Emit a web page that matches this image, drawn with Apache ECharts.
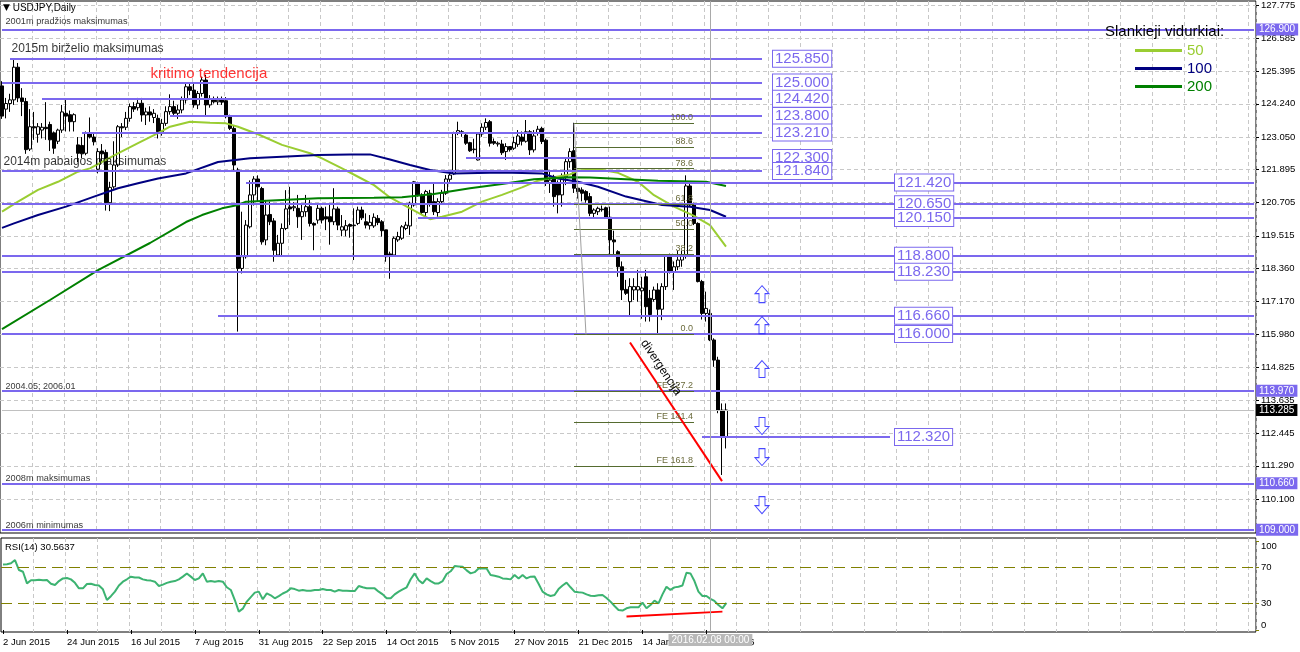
<!DOCTYPE html>
<html><head><meta charset="utf-8">
<script src="https://cdn.jsdelivr.net/npm/echarts@6/dist/echarts.min.js"></script>
<style>html,body{margin:0;padding:0;background:#fff}#c{width:1300px;height:652px}</style>
</head><body><div id="c"></div>
<script>
// ---------- DATA ----------
const opens = [124.88,124.05,124.25,124.38,125.55,124.45,124.32,122.62,123.42,123.15,
123.30,123.40,123.50,123.20,122.90,123.30,123.90,123.85,123.60,122.77,
122.75,122.47,123.18,123.05,121.90,122.55,122.50,120.70,121.27,122.05,
123.42,123.40,123.72,124.14,124.10,124.26,123.84,123.95,123.75,123.72,
123.24,123.54,123.96,124.14,123.90,124.02,124.38,124.85,124.73,124.20,
124.61,125.09,124.20,124.43,124.31,124.40,124.35,123.78,123.36,121.87,
118.35,118.77,119.84,120.98,121.55,121.21,119.37,120.28,120.05,118.83,
119.25,119.78,120.55,120.52,120.50,120.20,120.38,120.56,119.96,120.08,
120.50,120.20,120.20,120.02,120.48,119.72,119.72,119.92,119.88,119.96,
120.44,120.02,119.88,119.87,120.14,120.02,119.73,118.87,118.83,119.37,
119.43,119.78,119.87,120.62,121.37,120.98,120.35,121.04,120.74,120.35,
120.74,121.04,121.54,121.73,123.18,123.24,123.12,122.85,122.60,122.23,
123.16,123.40,123.60,122.89,122.80,122.80,122.53,122.71,122.65,122.79,
123.05,122.90,123.24,122.59,123.18,123.36,122.94,121.40,121.60,121.40,
120.98,121.63,122.17,122.56,121.22,121.16,121.10,120.92,120.32,120.38,
120.47,120.52,120.18,119.37,118.95,118.41,117.60,117.16,117.58,117.58,
117.55,118.05,117.28,117.24,117.58,116.89,117.70,118.81,118.23,118.41,
118.65,118.80,121.30,120.62,119.96,117.88,116.74,116.74,115.79,115.07,
113.28,112.33];
const highs = [125.05,124.45,124.60,125.86,125.70,124.80,124.45,124.05,123.95,123.55,
123.55,124.30,123.60,123.25,123.35,124.20,124.38,124.00,123.90,123.05,
123.05,123.25,123.75,123.20,122.65,122.80,122.60,121.45,122.90,123.48,
123.55,123.95,124.25,124.30,124.45,124.45,124.10,124.15,124.05,123.85,
123.70,124.15,124.58,124.35,124.20,124.50,125.00,125.00,124.95,124.70,
125.21,125.28,124.55,124.50,124.50,124.50,124.48,123.85,123.45,121.95,
120.38,120.08,121.50,121.65,121.68,121.27,120.80,120.74,120.15,119.55,
119.96,121.15,121.27,120.72,120.98,120.68,120.98,120.80,120.00,120.62,
120.56,120.56,120.62,121.22,120.56,120.26,120.08,119.96,120.50,120.56,
120.56,120.32,120.26,120.32,120.26,120.08,119.73,118.95,119.49,119.66,
119.90,120.02,120.74,121.48,121.45,121.04,121.16,121.16,121.40,120.86,
121.16,121.69,121.81,123.24,123.60,123.30,123.20,122.88,122.99,123.18,
123.54,123.72,123.66,123.00,122.89,122.95,122.83,122.71,123.06,123.30,
123.25,123.66,123.30,123.30,123.45,123.42,123.00,121.80,121.70,121.50,
121.75,122.30,122.65,123.56,121.40,121.25,121.15,121.05,120.50,120.56,
120.60,120.56,120.56,119.70,119.00,118.60,117.94,118.00,118.00,118.30,
118.05,118.30,117.58,117.70,117.82,117.82,118.83,118.88,118.60,118.99,
118.99,121.68,121.45,120.70,120.00,117.94,117.52,116.88,115.85,115.19,
113.52,113.52];
const lows = [123.70,123.72,123.95,124.20,124.30,123.80,122.45,122.55,122.95,122.85,
123.00,122.95,122.55,122.45,122.80,123.20,123.25,123.25,123.25,122.15,
122.30,122.40,123.00,122.75,121.75,122.10,120.42,120.40,121.20,121.98,
123.05,123.30,123.60,123.95,124.00,123.60,123.48,123.60,123.55,123.00,
123.10,123.45,123.85,123.80,123.70,123.90,124.25,124.55,124.10,124.05,
124.50,123.78,124.10,124.25,124.20,124.20,123.72,123.30,121.81,116.09,
118.17,118.70,119.78,120.60,120.75,119.20,119.18,119.90,118.59,118.77,
118.83,119.72,119.90,120.40,119.80,119.37,120.20,119.85,119.00,119.95,
119.96,119.72,119.20,119.90,119.72,119.50,119.50,119.45,118.65,119.90,
120.08,119.78,119.74,119.80,119.90,119.49,118.59,117.98,118.77,119.30,
119.37,119.72,119.55,120.56,120.92,120.26,120.20,120.56,120.26,120.20,
120.68,120.98,121.45,121.69,123.12,123.06,122.77,122.52,122.47,122.21,
123.06,123.30,122.71,122.77,122.71,122.41,122.23,122.53,122.59,122.70,
122.75,122.85,122.41,122.50,123.10,122.80,121.30,121.05,120.56,120.32,
120.56,121.33,121.95,121.05,120.85,120.75,120.70,120.22,120.18,120.26,
120.38,120.14,118.77,118.77,118.05,117.22,117.40,116.68,117.22,117.16,
116.55,116.45,116.45,117.16,115.97,116.50,117.58,118.17,117.58,118.29,
118.41,118.70,120.55,119.90,117.85,116.52,116.45,115.75,114.83,113.17,
110.96,111.91];
const closes = [123.80,124.25,124.38,125.55,124.45,124.32,122.60,123.42,123.38,123.42,
123.40,123.35,122.95,122.65,123.30,123.95,123.80,123.60,123.85,122.47,
122.45,123.18,123.05,122.88,122.53,122.45,120.70,121.25,122.05,123.42,
123.38,123.72,124.14,124.05,124.26,123.84,123.95,123.84,123.90,123.24,
123.54,123.96,124.14,123.90,124.02,124.38,124.85,124.72,124.20,124.61,
125.09,124.20,124.43,124.31,124.37,124.30,123.78,123.36,122.05,118.35,
118.77,119.90,120.98,121.55,121.27,119.30,120.26,120.02,119.00,119.25,
119.78,120.48,120.48,120.56,120.20,120.38,120.56,119.96,119.90,120.50,
120.08,120.12,120.02,120.48,119.90,119.84,119.88,119.86,119.90,120.44,
120.16,119.90,120.00,120.18,119.99,119.70,118.77,118.80,119.43,119.49,
119.84,119.90,120.68,121.45,120.98,120.35,121.10,120.68,120.38,120.74,
121.04,121.55,121.69,123.18,123.28,123.18,122.83,122.56,122.62,123.16,
123.40,123.57,122.83,122.83,122.83,122.49,122.71,122.60,122.85,123.09,
122.90,123.24,122.59,123.09,123.33,122.89,121.45,121.51,120.92,120.98,
121.63,122.17,122.53,121.22,121.10,121.04,120.80,120.32,120.44,120.50,
120.45,120.18,119.37,119.30,118.41,117.58,117.46,117.70,117.70,117.70,
117.65,116.98,116.70,117.58,116.89,117.70,118.81,118.23,118.41,118.65,
118.80,121.30,120.62,119.96,117.88,116.74,116.92,115.79,115.07,113.28,
112.33,113.285];
const rsiValues = [73.7,74,75,78.6,67.4,65.5,52.4,56,56,56.5,
56,56.2,52,50.6,55,58,58.5,56.9,53,46.8,
46.8,51.7,52,50.6,50,45.7,33.7,38,43.1,50,
54.3,57,59.9,59,59,56.9,56,55.5,54.3,49.4,
51,53,54.3,55,56.9,60,63.6,60,56.2,58,
63.6,54.3,55,54.3,55,54.3,48,45,33.7,20.7,
24,31.9,37,42,43.1,34.5,41.2,39,35.6,38,
41,43.1,46.8,46,44.2,45,44.2,44,45,45,
46,45,45,43.1,45,44.2,44.2,43.8,43.8,49.4,
48,47,46.8,46.8,43.1,40,35.6,35.6,40,43.1,
45.7,48,57,63.6,56,52.4,58,55,52.4,52.4,
55,62.9,66,71.9,71.5,71.1,67,63.6,65,69.2,
69.5,69.2,61.8,61,59.9,58,57.5,56.9,61.8,58,
61.8,58,59.9,60,52,43.1,40,38.2,39.3,46,
50,53.2,48,43.1,42.5,42,40,38.5,38.2,39,
39.3,36,31.9,27,22.5,21.8,24.4,25.5,25.5,25.5,
30.7,24.4,28,33,30,40,48.7,45,47.9,48.7,
50,64.4,63.6,55,43.1,38.2,38.2,35,32.6,28,
24.4,30.56];
// moving averages, read at bar index -> price
const ma50Pts = [[0,120.38],[4,120.74],[9,121.16],[14,121.45],[19,121.81],[22,121.93],[29,122.47],[34,122.83],[39,123.19],[42,123.42],[47,123.60],[52,123.56],[56,123.54],[59,123.42],[64,123.15],[70,122.77],[77,122.47],[80,122.29],[85,121.93],[89,121.63],[93,121.33],[97,120.89],[102,120.50],[107,120.11],[110,120.20],[115,120.38],[120,120.74],[125,120.98],[130,121.25],[134,121.49],[138,121.61],[142,121.71],[144,121.85],[149,121.90],[154,121.77],[159,121.45],[163,120.97],[168,120.56],[173,120.23],[177,119.90],[181,119.13]];
const ma100Pts = [[0,119.80],[3,119.96],[9,120.26],[16,120.56],[23,120.92],[29,121.22],[34,121.40],[39,121.57],[46,121.75],[54,122.16],[62,122.29],[70,122.35],[79,122.41],[87,122.43],[92,122.43],[97,122.25],[102,122.05],[107,121.87],[113,121.75],[125,121.78],[135,121.75],[139,121.57],[144,121.45],[149,121.27],[156,120.92],[165,120.62],[172,120.56],[177,120.44],[181,120.20]];
const ma200Pts = [[0,116.18],[12,117.22],[24,118.29],[37,119.26],[46,120.01],[50,120.26],[55,120.50],[59,120.62],[61,120.74],[70,120.80],[79,120.86],[93,120.88],[100,120.90],[108,121.01],[117,121.22],[125,121.37],[133,121.54],[142,121.61],[147,121.60],[156,121.54],[164,121.49],[176,121.45],[181,121.30]];
const priceTicks = [127.775,126.585,125.395,124.240,123.050,121.895,120.705,119.515,118.360,117.170,115.980,114.825,113.635,112.445,111.290,110.100];
const rsiTicks = [0,30,70,100];
// horizontal levels: price, first bar, last bar, label kind
const levelValues = [126.9,125.85,125.0,124.42,123.8,123.21,122.3,121.84,121.42,120.65,120.15,118.8,118.23,116.66,116.0,113.97,112.32,110.66,109.0];
const levelFrom   = [0,2,0,10,42,20,116,0,61,0,104,0,0,54,0,0,175,0,0];
const levelTo     = [313,190,190,190,190,190,190,190,313,313,313,313,313,313,313,313,222,313,313];
const levelKind   = ['axis','box','box','box','box','box','box','box','box2','box2','box2','box2','box2','box2','box2','axis','box2','axis','axis'];
const fibValues = [123.54,122.68,121.92,120.655,119.765,118.875,115.99,113.95,112.845,111.28];
const fibLabels = ['100.0','88.6','78.6','61.8','50.0','38.2','0.0','FE 127.2','FE 141.4','FE 161.8'];
const arrowsUp = [[190,117.43],[190,116.32],[190,114.75]];
const arrowsDown = [[190,112.71],[190,111.60],[190,109.88]];
const noteTexts = ['2001m pradžios maksimumas','2015m birželio maksimumas','kritimo tendencija','2014m pabaigos maksimumas','2004.05; 2006.01','2008m maksimumas','2006m minimumas'];
const noteBars  = [0,2,37,0,0,0,0];
const notePrices= [127.17,126.20,125.31,122.16,114.14,110.82,109.17];
const lastPrice = 113.285;
const crossBar = 177;
// ---------- build ----------
if (opens.length!==182||highs.length!==182||lows.length!==182||closes.length!==182||rsiValues.length!==182) throw new Error('len '+[opens.length,highs.length,lows.length,closes.length,rsiValues.length]);
const months=['Jan','Feb','Mar','Apr','May','Jun','Jul','Aug','Sep','Oct','Nov','Dec'];
const dates=[]; {let d=new Date(Date.UTC(2015,5,2)); while(dates.length<314){const wd=d.getUTCDay(),m=d.getUTCMonth(),day=d.getUTCDate(); if(wd>0&&wd<6&&!(m===11&&day===25)&&!(m===0&&day===1)) dates.push(day+' '+months[m]+' '+d.getUTCFullYear()); d.setUTCDate(day+1);}}
const FONT='Liberation Sans, Arial, sans-serif';
const PURPLE='#7B68EE';
const candles = opens.map((o,i)=>[o,closes[i],lows[i],highs[i]]);
const boxLabel = (v,dist)=>({show:true,position:'end',distance:dist,formatter:v.toFixed(3),color:PURPLE,backgroundColor:'#fff',borderColor:PURPLE,borderWidth:1,fontSize:15,lineHeight:16,fontFamily:FONT,padding:[0,2]});
const mlData=[];
levelValues.forEach((v,i)=>{
  const k=levelKind[i];
  let label={show:false};
  if(k==='axis') label={show:true,position:'end',distance:2,formatter:v.toFixed(3),backgroundColor:PURPLE,color:'#fff',fontSize:10,fontFamily:FONT,padding:[1,3]};
  if(k==='box') label=boxLabel(v,11);
  mlData.push([{coord:[levelFrom[i],v],lineStyle:{color:PURPLE,width:2,type:'solid'},label},{coord:[levelTo[i],v]}]);
  if(k==='box2') mlData.push([{coord:[222,v],lineStyle:{color:'rgba(0,0,0,0)',width:0},label:boxLabel(v,1)},{coord:[223,v]}]);
});
fibValues.forEach((v,i)=>{
  mlData.push([{coord:[143,v],lineStyle:{color:'#556B2F',width:1,type:'solid'},label:{show:true,position:'insideEndTop',distance:1,formatter:fibLabels[i],color:'#6b6b3c',fontSize:9,fontFamily:FONT}},{coord:[173,v]}]);
});
mlData.push([{coord:[143,123.54],lineStyle:{color:'#a0a0a0',width:1,type:'solid'},label:{show:false}},{coord:[146,115.99]}]);
mlData.push([{coord:[157,115.70],lineStyle:{color:'#ff0000',width:2,type:'solid'},label:{show:true,position:'insideStartTop',distance:6,formatter:'divergencija',color:'#000',fontSize:12,fontFamily:FONT}},{coord:[180,110.74]}]);
mlData.push([{coord:[0,lastPrice],lineStyle:{color:'#c0c0c0',width:1,type:'solid'},label:{show:true,position:'end',distance:2,formatter:lastPrice.toFixed(3),backgroundColor:'#000',color:'#fff',fontSize:10,fontFamily:FONT,padding:[1,3]}},{coord:[313,lastPrice]}]);
mlData.push({xAxis:crossBar,lineStyle:{color:'#a9a9a9',width:1,type:'solid'},label:{show:false}});

const upPath='path://M7,0 L14,8 L10,8 L10,17 L4,17 L4,8 L0,8 Z';
const downPath='path://M4,0 L10,0 L10,9 L14,9 L7,17 L0,9 L4,9 Z';
const catAxisBase = {type:'category',data:dates,boundaryGap:true,axisLine:{show:false},
  splitLine:{show:true,interval:(i)=>i%8===0&&i>0,lineStyle:{color:'#c8c8c8',type:[4,3]}}};

const chart=echarts.init(document.getElementById('c'),null,{renderer:'canvas'});
chart.setOption({
  animation:false,
  backgroundColor:'#fff',
  textStyle:{fontFamily:FONT},
  title:[
    {text:'{tri|▼} USDJPY,Daily',left:3,top:3,padding:0,textStyle:{fontSize:10,fontWeight:'normal',color:'#000',fontFamily:FONT,rich:{tri:{fontSize:9,fontFamily:'DejaVu Sans'}}}},
    {text:'RSI(14) 30.5637',left:5,top:542,padding:0,textStyle:{fontSize:9.5,fontWeight:'normal',color:'#000',fontFamily:FONT}},
    {text:'Slankieji vidurkiai:',left:1105,top:24,padding:0,textStyle:{fontSize:15,fontWeight:'normal',color:'#000',fontFamily:FONT}}
  ],
  legend:{orient:'vertical',left:1135,top:43,itemWidth:47,itemHeight:3,itemGap:3,icon:'rect',selectedMode:false,padding:0,
    textStyle:{fontSize:15,fontFamily:FONT},
    data:[{name:'50',textStyle:{color:'#9ACD32'}},{name:'100',textStyle:{color:'#000080'}},{name:'200',textStyle:{color:'#008000'}}]},
  grid:[
    {left:0,top:1,width:1256,height:532,show:true,borderColor:'#000',borderWidth:1,backgroundColor:'#fff'},
    {left:0,top:538,width:1256,height:94,show:true,borderColor:'#000',borderWidth:1,backgroundColor:'#fff'}
  ],
  xAxis:[
    Object.assign({},catAxisBase,{gridIndex:0,axisLabel:{show:false},axisTick:{show:false}}),
    Object.assign({},catAxisBase,{gridIndex:1,
      axisTick:{show:true,alignWithLabel:true,interval:(i)=>i%16===0&&i<=176,length:4,lineStyle:{color:'#000'}},
      axisLabel:{show:true,interval:(i)=>i%16===0&&i<=176,align:'left',margin:5,color:'#000',fontSize:9.5,fontFamily:FONT,
        formatter:(v)=>v}})
  ],
  yAxis:[
    {type:'value',gridIndex:0,position:'right',min:108.884,max:127.918,scale:true,
      axisLine:{show:false},
      axisTick:{show:true,length:3,customValues:priceTicks,lineStyle:{color:'#000'}},
      axisLabel:{show:true,customValues:priceTicks,margin:5,color:'#000',fontSize:9.5,fontFamily:FONT,formatter:(v)=>v.toFixed(3)},
      splitLine:{show:true,lineStyle:{color:'#c8c8c8',type:[4,3]}}},
    {type:'value',gridIndex:1,position:'right',min:-2.25,max:103.4,
      axisLine:{show:false},
      axisTick:{show:true,length:3,customValues:rsiTicks,lineStyle:{color:'#808000'}},
      axisLabel:{show:true,customValues:rsiTicks,margin:5,color:'#000',fontSize:9.5,fontFamily:FONT,
        formatter:(v)=>v===100?'{t|100}':(v===0?'{b|0}':String(v)),
        rich:{t:{padding:[10,0,0,0],fontSize:9.5,color:'#000'},b:{padding:[0,0,10,0],fontSize:9.5,color:'#000'}}},
      splitLine:{show:false}}
  ],
  series:[
    {name:'USDJPY',type:'candlestick',xAxisIndex:0,yAxisIndex:0,data:candles,barWidth:3,z:2,
      itemStyle:{color:'#fff',color0:'#000',borderColor:'#000',borderColor0:'#000',borderWidth:1},
      markLine:{silent:true,symbol:['none','none'],animation:false,z:5,data:mlData}},
    {name:'50',type:'line',xAxisIndex:0,yAxisIndex:0,data:ma50Pts,showSymbol:false,smooth:false,z:3,
      itemStyle:{color:'#9ACD32'},lineStyle:{color:'#9ACD32',width:2}},
    {name:'100',type:'line',xAxisIndex:0,yAxisIndex:0,data:ma100Pts,showSymbol:false,smooth:false,z:3,
      itemStyle:{color:'#000080'},lineStyle:{color:'#000080',width:2}},
    {name:'200',type:'line',xAxisIndex:0,yAxisIndex:0,data:ma200Pts,showSymbol:false,smooth:false,z:3,
      itemStyle:{color:'#008000'},lineStyle:{color:'#008000',width:2}},
    {name:'up',type:'scatter',xAxisIndex:0,yAxisIndex:0,data:arrowsUp,symbol:upPath,symbolSize:[14,17],z:6,
      itemStyle:{color:'#fff',borderColor:'#1a1aff',borderWidth:1}},
    {name:'down',type:'scatter',xAxisIndex:0,yAxisIndex:0,data:arrowsDown,symbol:downPath,symbolSize:[14,17],z:6,
      itemStyle:{color:'#fff',borderColor:'#1a1aff',borderWidth:1}},
    {name:'notes',type:'scatter',xAxisIndex:0,yAxisIndex:0,symbolSize:1,z:7,itemStyle:{color:'rgba(0,0,0,0)'},
      data:noteTexts.map((t,i)=>({value:[noteBars[i],notePrices[i]],label:{show:true,position:'right',distance:0,formatter:t,
        color:i===2?'#ff0000':'#000',fontFamily:FONT,fontSize:[9.2,12,15,12,9,9.2,9.2][i],offset:[[3,0],[1,0],[0,0],[1,0],[3,0],[3,0],[3,0]][i]}}))},
    {name:'RSI',type:'line',xAxisIndex:1,yAxisIndex:1,data:rsiValues,showSymbol:false,z:3,
      lineStyle:{color:'#3CB371',width:2},itemStyle:{color:'#3CB371'},
      markLine:{silent:true,symbol:['none','none'],animation:false,data:[
        {yAxis:70,lineStyle:{color:'#808000',type:[11,6],width:1},label:{show:false}},
        {yAxis:30,lineStyle:{color:'#808000',type:[11,6],width:1},label:{show:false}},
        [{coord:[156,15.05],lineStyle:{color:'#ff0000',width:2,type:'solid'},label:{show:false}},{coord:[180,20.65]}],
        {xAxis:crossBar,lineStyle:{color:'#a9a9a9',width:1,type:'solid'},
          label:{show:true,position:'start',distance:2,formatter:'2016.02.08 00:00',backgroundColor:'#b8b8b8',color:'#fff',fontSize:10,fontFamily:FONT,padding:[1,3]}}
      ]}}
  ]
});
</script></body></html>
